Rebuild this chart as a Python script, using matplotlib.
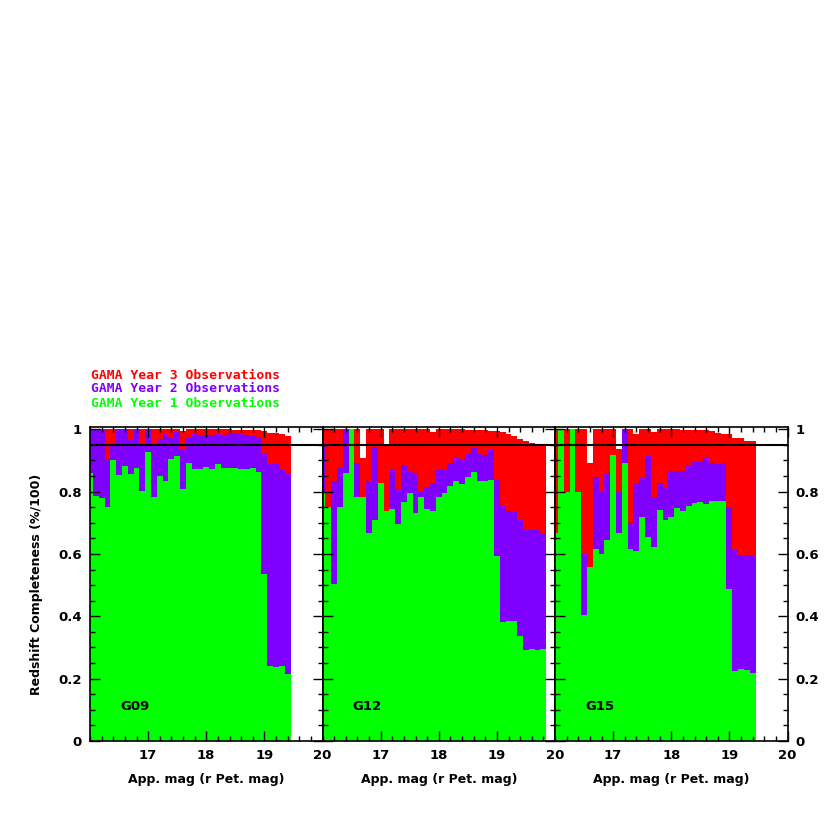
import numpy as np
import matplotlib
matplotlib.use('Agg')
import matplotlib.pyplot as plt
from matplotlib.ticker import MultipleLocator

# cumulative completeness per 0.1 mag bin (bin centres start at 16.0)
# yr1 = year 1 only, yr2 = years 1+2, yr3 = years 1+2+3
g09_yr1 = [0.858, 0.785, 0.780, 0.751, 0.900, 0.853, 0.881, 0.855, 0.876, 0.801,
           0.927, 0.781, 0.849, 0.834, 0.903, 0.913, 0.808, 0.890, 0.872, 0.872,
           0.879, 0.871, 0.887, 0.876, 0.877, 0.877, 0.873, 0.871, 0.874, 0.863,
           0.535, 0.241, 0.236, 0.240, 0.215]
g09_yr2 = [1.000, 1.000, 1.000, 0.904, 0.952, 1.000, 1.000, 0.966, 1.000, 0.952,
           1.000, 0.954, 0.968, 0.986, 0.973, 0.990, 0.933, 0.973, 0.985, 0.979,
           0.980, 0.982, 0.985, 0.980, 0.987, 0.987, 0.985, 0.980, 0.978, 0.972,
           0.922, 0.888, 0.888, 0.870, 0.860]
g09_yr3 = [1.000, 1.000, 1.000, 1.000, 1.000, 1.000, 1.000, 1.000, 1.000, 1.000,
           1.000, 1.000, 1.000, 1.000, 1.000, 1.000, 0.993, 1.000, 1.000, 1.000,
           1.000, 1.000, 1.000, 0.999, 0.999, 0.998, 0.998, 0.997, 0.997, 0.996,
           0.995, 0.989, 0.989, 0.984, 0.979]

g12_yr1 = [0.796, 0.751, 0.503, 0.751, 0.860, 1.000, 0.781, 0.781, 0.668, 0.710,
           0.826, 0.738, 0.743, 0.696, 0.767, 0.796, 0.732, 0.781, 0.743, 0.738,
           0.781, 0.796, 0.817, 0.834, 0.824, 0.847, 0.863, 0.833, 0.833, 0.837,
           0.593, 0.381, 0.384, 0.384, 0.337, 0.292, 0.294, 0.292, 0.296]
g12_yr2 = [0.950, 0.751, 0.833, 0.876, 1.000, 1.000, 0.890, 0.781, 0.833, 0.943,
           0.826, 0.738, 0.871, 0.807, 0.885, 0.863, 0.858, 0.800, 0.815, 0.828,
           0.869, 0.869, 0.890, 0.912, 0.900, 0.922, 0.939, 0.922, 0.917, 0.933,
           0.837, 0.753, 0.738, 0.735, 0.708, 0.678, 0.676, 0.676, 0.666]
g12_yr3 = [1.000, 1.000, 1.000, 1.000, 1.000, 1.000, 1.000, 0.909, 1.000, 1.000,
           1.000, 0.954, 1.000, 1.000, 1.000, 1.000, 1.000, 1.000, 1.000, 0.990,
           1.000, 1.000, 1.000, 1.000, 0.999, 0.998, 0.998, 0.997, 0.997, 0.995,
           0.993, 0.990, 0.985, 0.978, 0.970, 0.963, 0.955, 0.948, 0.945]

g15_yr1 = [0.666, 1.000, 0.800, 1.000, 0.800, 0.404, 0.559, 0.617, 0.600, 0.644,
           0.917, 0.666, 0.890, 0.617, 0.610, 0.719, 0.655, 0.623, 0.740, 0.708,
           0.719, 0.746, 0.738, 0.753, 0.762, 0.767, 0.760, 0.769, 0.769, 0.769,
           0.489, 0.225, 0.231, 0.228, 0.217]
g15_yr2 = [0.666, 1.000, 0.800, 1.000, 0.800, 0.600, 0.559, 0.847, 0.800, 0.858,
           0.917, 0.800, 1.000, 0.698, 0.824, 0.845, 0.913, 0.783, 0.828, 0.810,
           0.866, 0.866, 0.866, 0.885, 0.896, 0.896, 0.907, 0.893, 0.888, 0.890,
           0.749, 0.614, 0.596, 0.596, 0.593]
g15_yr3 = [1.000, 1.000, 1.000, 1.000, 1.000, 1.000, 0.890, 1.000, 1.000, 1.000,
           1.000, 0.935, 1.000, 1.000, 0.985, 1.000, 1.000, 0.990, 1.000, 1.000,
           1.000, 1.000, 0.998, 0.997, 0.997, 0.996, 0.996, 0.995, 0.989, 0.984,
           0.984, 0.973, 0.973, 0.963, 0.963]

fields = ['G09', 'G12', 'G15']
field_data = [(g09_yr1, g09_yr2, g09_yr3),
              (g12_yr1, g12_yr2, g12_yr3),
              (g15_yr1, g15_yr2, g15_yr3)]
legend_labels = ['GAMA Year 3 Observations', 'GAMA Year 2 Observations',
                 'GAMA Year 1 Observations']

GREEN = '#00ff00'
PURPLE = '#7f00ff'
RED = '#ff0000'

plt.rcParams['font.family'] = ['DejaVu Sans']
plt.rcParams['font.weight'] = 'bold'
plt.rcParams['axes.labelweight'] = 'bold'

fig = plt.figure(figsize=(8.3, 8.3), dpi=100)
W, H = 830.0, 830.0
left_px = [90, 322.5, 555]
pw = 232.5
top_px, bot_px = 427, 741

axes = []
for i, name in enumerate(fields):
    ax = fig.add_axes([left_px[i] / W, 1 - bot_px / H, pw / W, (bot_px - top_px) / H])
    yr1, yr2, yr3 = field_data[i]
    n = len(yr1)
    edges = 15.95 + 0.1 * np.arange(n + 1)
    ax.stairs(yr3, edges, fill=True, color=RED, lw=0)
    ax.stairs(yr2, edges, fill=True, color=PURPLE, lw=0)
    ax.stairs(yr1, edges, fill=True, color=GREEN, lw=0)
    ax.axhline(0.95, color='black', lw=1.5)
    ax.set_xlim(16, 20)
    ax.set_ylim(0, 1.007)
    ax.xaxis.set_minor_locator(MultipleLocator(0.2))
    ax.yaxis.set_minor_locator(MultipleLocator(0.05))
    ax.set_xticks([17, 18, 19, 20])
    ax.set_xticklabels(['17', '18', '19', '20'])
    ax.set_yticks([0, 0.2, 0.4, 0.6, 0.8, 1.0])
    ax.set_yticklabels(['0', '0.2', '0.4', '0.6', '0.8', '1'])
    ax.tick_params(which='both', direction='in', top=True, right=True,
                   width=1.0, labelsize=9.5)
    ax.tick_params(which='major', length=7, pad=6)
    ax.tick_params(which='minor', length=3.5)
    ax.tick_params(labelleft=(i == 0), labelright=(i == 2))
    for sp in ax.spines.values():
        sp.set_linewidth(1.2)
    ax.set_xlabel('App. mag (r Pet. mag)', fontsize=9, labelpad=8)
    ax.text(16.52, 0.112, name, fontsize=9.5, va='center', ha='left')
    axes.append(ax)

axes[0].set_ylabel('Redshift Completeness (%/100)', fontsize=9, labelpad=11)

for j, (lab, col) in enumerate(zip(legend_labels, [RED, PURPLE, GREEN])):
    fig.text(91 / W, 1 - (375 + 14 * j) / H, lab, color=col, fontsize=9.4,
             family='DejaVu Sans Mono', fontweight='bold', va='center', ha='left')

fig.savefig('out.png', dpi=100)
